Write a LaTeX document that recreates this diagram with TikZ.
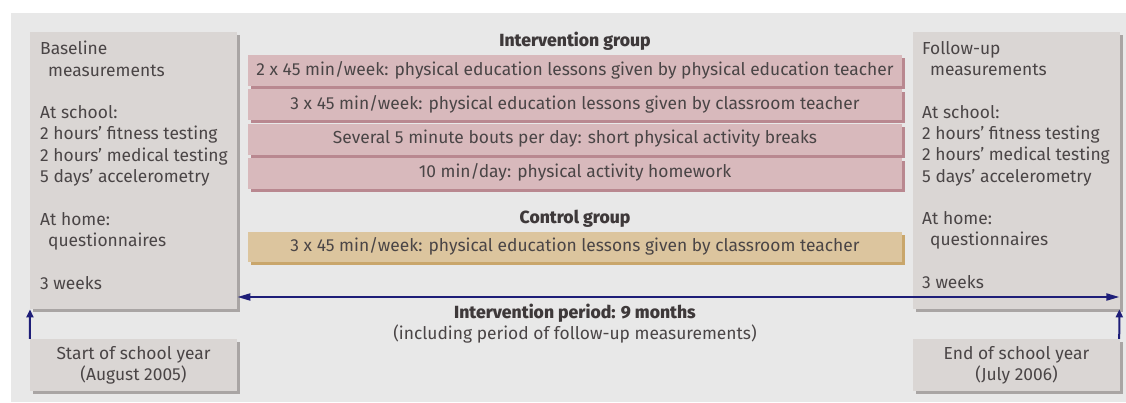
\documentclass[tikz,border=0pt]{standalone}
\usepackage{fontspec}
\setmainfont{Fira Sans}
\newfontfamily\heavyfont{Fira Sans ExtraBold}
\usetikzlibrary{shadows,arrows.meta,calc}
\definecolor{pagebg}{HTML}{E8E8E8}
\definecolor{gbox}{HTML}{DAD6D4}
\definecolor{gshadow}{HTML}{A9A5A4}
\definecolor{pbox}{HTML}{D8B9BC}
\definecolor{pshadow}{HTML}{B98890}
\definecolor{tbox}{HTML}{DCC59E}
\definecolor{tshadow}{HTML}{C9A66B}
\definecolor{navy}{HTML}{1E1E78}
\definecolor{txt}{HTML}{4A4546}
\definecolor{ttl}{HTML}{3E393A}
\begin{document}
\begin{tikzpicture}[x=1pt,y=-1pt,
  every node/.style={font=\fontsize{17.4}{21.3}\selectfont, text=txt, inner sep=0pt},
  graybox/.style={fill=gbox, minimum width=207pt,
    drop shadow={shadow xshift=3pt,shadow yshift=-3pt,opacity=1,fill=gshadow}},
  pinkbox/.style={fill=pbox, minimum width=654pt, minimum height=31pt,
    text height=12.5pt, text depth=3.5pt,
    drop shadow={shadow xshift=3pt,shadow yshift=-3pt,opacity=1,fill=pshadow}},
  tanbox/.style={fill=tbox, minimum width=654pt, minimum height=30pt,
    text height=12.5pt, text depth=3.5pt,
    drop shadow={shadow xshift=3pt,shadow yshift=-3pt,opacity=1,fill=tshadow}},
  boxtext/.style={anchor=north west, align=left},
  title/.style={anchor=base, text=ttl, font=\fontsize{17.6}{21.3}\selectfont\heavyfont},
  vert/.style={draw=navy, line width=2pt, -{Triangle[length=8pt,width=7pt]}},
  horiz/.style={draw=navy, line width=2pt, {Triangle[length=13pt,width=7pt]}-{Triangle[length=13pt,width=7pt]}}
]
\useasboundingbox (0,0) rectangle (1126,402);
\fill[pagebg] (11,13) rectangle (1126,402);

% side boxes
\node[graybox, minimum height=277pt, anchor=north west] (base) at (30,32) {};
\node[graybox, minimum height=277pt, anchor=north west] (fu) at (913,32) {};
\node[boxtext] (basetxt) at (40,41) {Baseline\\\hspace*{8pt}measurements\\[21.3pt]At school:\\2 hours’ fitness testing\\2 hours’ medical testing\\5 days’ accelerometry\\[21.3pt]At home:\\\hspace*{8pt}questionnaires\\[21.3pt]3 weeks};
\node[boxtext] (futxt) at (922,41) {Follow-up\\\hspace*{8pt}measurements\\[21.3pt]At school:\\2 hours’ fitness testing\\2 hours’ medical testing\\5 days’ accelerometry\\[21.3pt]At home:\\\hspace*{8pt}questionnaires\\[21.3pt]3 weeks};

% bottom boxes
\node[graybox, minimum height=52pt, align=center] (start) at (133.5,365) {Start of school year\\(August 2005)};
\node[graybox, minimum height=52pt, align=center] (end) at (1016.5,365) {End of school year\\(July 2006)};

% intervention group
\node[title] (ig) at (575,46) {Intervention group};
\node[pinkbox] (i1) at (575,70.5) {2 x 45 min/week: physical education lessons given by physical education teacher};
\node[pinkbox] (i2) at (575,104.5) {3 x 45 min/week: physical education lessons given by classroom teacher};
\node[pinkbox] (i3) at (575,139) {Several 5 minute bouts per day: short physical activity breaks};
\node[pinkbox] (i4) at (575,173) {10 min/day: physical activity homework};

% control group
\node[title] (cg) at (575,223) {Control group};
\node[tanbox] (c1) at (575,247) {3 x 45 min/week: physical education lessons given by classroom teacher};

% period
\coordinate (ipy) at (0,297);
\draw[horiz] (base.east |- ipy) -- ([xshift=-1pt]fu.east |- ipy);
\node[title] (ip) at (575,318) {Intervention period: 9 months};
\node[anchor=base] (incl) at (575,339) {(including period of follow-up measurements)};

% arrows
\draw[vert] (start.north west) -- (base.south west);
\draw[vert] ([xshift=-1pt]end.north east) -- ([xshift=-1pt]fu.south east);
\end{tikzpicture}
\end{document}
